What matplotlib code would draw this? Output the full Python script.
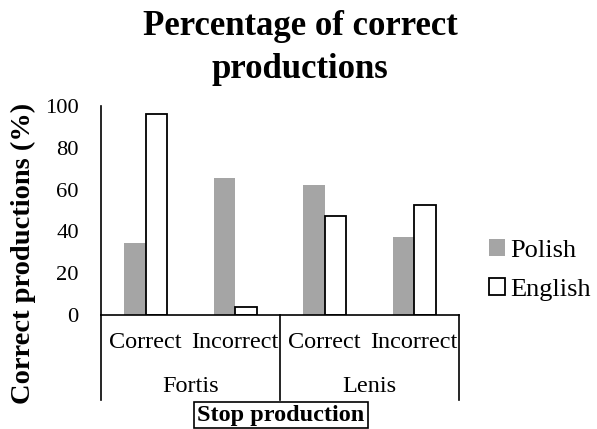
import matplotlib
matplotlib.use("Agg")
import matplotlib.pyplot as plt
import matplotlib.transforms as mtransforms
import numpy as np

plt.rcParams['font.family'] = ['Liberation Serif', 'DejaVu Serif']

# Data
groups = ["Fortis", "Lenis"]
categories = ["Correct", "Incorrect", "Correct", "Incorrect"]
polish = [34.5, 65.5, 62, 37.5]
english = [96, 4, 47.5, 52.5]
yticks = [0, 20, 40, 60, 80, 100]

W, H = 597, 429
fig = plt.figure(figsize=(W / 100, H / 100), dpi=100)
ax = fig.add_axes([101 / W, 1 - 315 / H, (459 - 101) / W, (315 - 106) / H])

x = np.arange(len(categories))
bw = 0.24
ax.bar(x - bw / 2, polish, width=bw, color="#a5a5a5", edgecolor="none", label="Polish")
ax.bar(x + bw / 2, english, width=bw, color="white", edgecolor="black", linewidth=1.3, label="English")

ax.set_xlim(-0.5, len(categories) - 0.5)
ax.set_ylim(0, 100)
ax.set_yticks(yticks)
ax.set_yticklabels([str(v) for v in yticks], fontsize=16.2)
ax.tick_params(axis="y", length=0, pad=16)
ax.set_xticks([])
for s in ["top", "right"]:
    ax.spines[s].set_visible(False)
ax.spines["left"].set_linewidth(1.2)
ax.spines["bottom"].set_linewidth(1.2)

# Two-level category axis
trans = mtransforms.blended_transform_factory(ax.transData, ax.transAxes)
bottom = -85 / 209
ax.plot([-0.5, -0.5], [0, bottom], transform=trans, color="black", lw=1.2, clip_on=False)
for b in [1.5, 3.5]:
    ax.plot([b, b], [0, bottom], transform=trans, color="black", lw=1.2, clip_on=False)
for xi, c in zip(x, categories):
    ax.text(xi, -28 / 209, c, transform=trans, ha="center", va="center", fontsize=17.5)
for gi, g in enumerate(groups):
    ax.text(0.5 + 2 * gi, -72 / 209, g, transform=trans, ha="center", va="center", fontsize=17.5)

# Axis titles
fig.text(281 / W, 1 - 415 / H, "Stop production", ha="center", va="center",
         fontsize=17.5, fontweight="bold",
         bbox=dict(boxstyle="square,pad=0.12", facecolor="white", edgecolor="black", linewidth=1.2))
fig.text(23 / W, 1 - 253 / H, "Correct productions (%)", rotation=90, ha="center", va="center",
         fontsize=20.5, fontweight="bold")

# Title
fig.text(300 / W, 1 - 48 / H, "Percentage of correct\nproductions", ha="center", va="center",
         fontsize=25, fontweight="bold", linespacing=1.38)

# Legend
ax.legend(loc="center left", bbox_to_anchor=(489 / W, 1 - 270 / H), bbox_transform=fig.transFigure,
          frameon=False, fontsize=19, handlelength=0.6, handleheight=0.6,
          handletextpad=0.2, labelspacing=0.6, borderpad=0, borderaxespad=0)

fig.savefig("out.png", dpi=100)
